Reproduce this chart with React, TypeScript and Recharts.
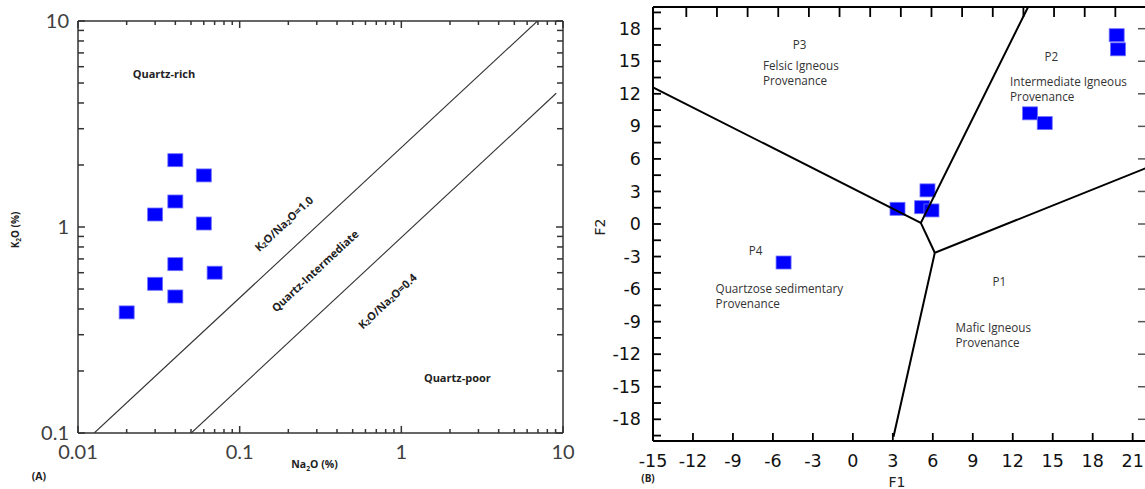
import React from 'react';
import { ScatterChart, Scatter, XAxis, YAxis } from 'recharts';

// ---------- Panel A : K2O vs Na2O (log-log) ----------
const NA2O = [0.04, 0.06, 0.04, 0.03, 0.06, 0.04, 0.07, 0.03, 0.04, 0.02];
const K2O = [2.11, 1.78, 1.33, 1.15, 1.04, 0.66, 0.6, 0.53, 0.46, 0.385];

// field boundaries (end points as drawn)
const RATIO_1_0 = [
  { x: 0.0126, y: 0.1 },
  { x: 6.95, y: 10 },
];
const RATIO_0_4 = [
  { x: 0.0502, y: 0.1 },
  { x: 9.08, y: 4.46 },
];

const A_X_TICKS = [
  0.01, 0.02, 0.03, 0.04, 0.05, 0.06, 0.07, 0.08, 0.09,
  0.1, 0.2, 0.3, 0.4, 0.5, 0.6, 0.7, 0.8, 0.9,
  1, 2, 3, 4, 5, 6, 7, 8, 9, 10,
];
const A_Y_TICKS = [
  0.1, 0.2, 0.3, 0.4, 0.5, 0.6, 0.7, 0.8, 0.9,
  1, 2, 3, 4, 5, 6, 7, 8, 9, 10,
];

const A_NOTES = [
  { x: 0.034, y: 5.6, text: 'Quartz-rich', angle: 0 },
  { x: 2.22, y: 0.186, text: 'Quartz-poor', angle: 0 },
  { x: 0.186, y: 1.045, text: 'K_2O/Na_2O=1.0', angle: -43 },
  { x: 0.29, y: 0.617, text: 'Quartz-Intermediate', angle: -43 },
  { x: 0.813, y: 0.44, text: 'K_2O/Na_2O=0.4', angle: -43 },
];

// ---------- Panel B : discriminant functions F1 / F2 ----------
const F1 = [19.8, 19.9, 13.3, 14.4, 5.6, 5.2, 5.9, 3.35, -5.2];
const F2 = [17.4, 16.1, 10.2, 9.3, 3.1, 1.55, 1.25, 1.4, -3.55];

const FIELD_LINES = [
  [
    { x: -15, y: 12.6 },
    { x: 5.1, y: 0.1 },
    { x: 13.15, y: 20 },
  ],
  [
    { x: 5.1, y: 0.1 },
    { x: 6.15, y: -2.65 },
  ],
  [
    { x: 22, y: 5.15 },
    { x: 6.15, y: -2.65 },
    { x: 3.05, y: -19.6 },
  ],
];

const B_X_TICKS = [-15, -12, -9, -6, -3, 0, 3, 6, 9, 12, 15, 18, 21];
const B_TOP_TICKS = [-12.5, -10.2, -7.9, -5.6, -3.3, -1.0, 1.3, 3.6, 5.9, 8.2, 10.5, 12.8, 15.1, 17.4, 19.7];
const B_Y_TICKS = [
  -19.5, -18, -16.5, -15, -13.5, -12, -10.5, -9, -7.5, -6, -4.5, -3, -1.5, 0,
  1.5, 3, 4.5, 6, 7.5, 9, 10.5, 12, 13.5, 15, 16.5, 18, 19.5,
];
const B_RIGHT_TICKS = [-18, -15, -12, -9, -6, -3, 0, 3, 6, 9, 12, 15, 18];

const B_FIELD_NAMES = [
  { x: -4.0, y: 16.5, text: 'P3' },
  { x: 14.9, y: 15.4, text: 'P2' },
  { x: -7.3, y: -2.5, text: 'P4' },
  { x: 11.0, y: -5.35, text: 'P1' },
];
const B_FIELD_TEXT = [
  { x: -6.75, y: 14.6, lines: ['Felsic Igneous', 'Provenance'] },
  { x: 11.8, y: 13.1, lines: ['Intermediate Igneous', 'Provenance'] },
  { x: -10.3, y: -6.0, lines: ['Quartzose sedimentary', 'Provenance'] },
  { x: 7.7, y: -9.6, lines: ['Mafic Igneous', 'Provenance'] },
];

const pointsA = NA2O.map((x, i) => ({ x, y: K2O[i] }));
const pointsB = F1.map((x, i) => ({ x, y: F2[i] }));

const A_AXIS = '#333';
const BLUE = '#0000ff';
const NUM_A = 'Lato, "Open Sans", sans-serif';
const NUM_B = '"DejaVu Sans", Verdana, sans-serif';
const NOTE_FONT = '"Open Sans", "Noto Sans", sans-serif';

// text with "_2" style subscripts
function chem(str: string, size: number) {
  const parts = str.split(/_(\d)/);
  return parts.map((p, i) =>
    i % 2 === 1 ? (
      <tspan key={i} fontSize={size * 0.65} dy={size * 0.25}>{p}</tspan>
    ) : (
      <tspan key={i} dy={i === 0 ? 0 : -size * 0.25}>{p}</tspan>
    )
  );
}

const isDecade = (v: number) => Math.abs(Math.log10(v) - Math.round(Math.log10(v))) < 1e-6;

const SquareMark = (props: any) => {
  const { cx, cy } = props;
  if (cx == null || cy == null) return <g />;
  return (
    <rect x={cx - 7.5} y={cy - 6.5} width={15} height={13} fill={BLUE} stroke="#7070ff" strokeWidth={0.8} />
  );
};

const Nothing = () => <g />;

// ----- panel A ticks (inward, log minors) -----
const ABottomTick = (props: any) => {
  const { x = 0, y = 0, payload } = props;
  const v = payload?.value;
  const major = isDecade(v);
  return (
    <g>
      <line x1={x} x2={x} y1={y} y2={y - (major ? 7 : 4)} stroke={A_AXIS} strokeWidth={1.5} />
      {major && (
        <text x={x} y={y + 19} dy="0.35em" textAnchor="middle" fontFamily={NUM_A} fontSize={20} fill="#404040">
          {v}
        </text>
      )}
    </g>
  );
};
const ATopTick = (props: any) => {
  const { x = 0, y = 0, payload } = props;
  const major = isDecade(payload?.value);
  return (
    <g>
      <line x1={x} x2={x} y1={y} y2={y + (major ? 7 : 4)} stroke={A_AXIS} strokeWidth={1.5} />
    </g>
  );
};
const ALeftTick = (props: any) => {
  const { x = 0, y = 0, payload } = props;
  const v = payload?.value;
  const major = isDecade(v);
  return (
    <g>
      <line x1={x} x2={x + (major ? 7 : 6)} y1={y} y2={y} stroke={A_AXIS} strokeWidth={1.5} />
      {major && (
        <text x={x - 9} y={y} dy="0.35em" textAnchor="end" fontFamily={NUM_A} fontSize={20} fill="#404040">
          {v}
        </text>
      )}
    </g>
  );
};
const ARightTick = (props: any) => {
  const { x = 0, y = 0, payload } = props;
  const major = isDecade(payload?.value);
  return (
    <g>
      <line x1={x} x2={x - (major ? 7 : 6)} y1={y} y2={y} stroke={A_AXIS} strokeWidth={1.5} />
    </g>
  );
};

// ----- panel B ticks -----
const BBottomTick = (props: any) => {
  const { x = 0, y = 0, payload } = props;
  return (
    <g>
      <line x1={x} x2={x} y1={y} y2={y - 8} stroke="#000" strokeWidth={1.8} />
      <text x={x} y={y + 20} dy="0.35em" textAnchor="middle" fontFamily={NUM_B} fontSize={17.5} fill="#111">
        {payload?.value}
      </text>
    </g>
  );
};
const BTopTick = (props: any) => {
  const { x = 0, y = 0 } = props;
  return (
    <g>
      <line x1={x} x2={x} y1={y} y2={y + 10} stroke="#000" strokeWidth={1.8} />
    </g>
  );
};
const BLeftTick = (props: any) => {
  const { x = 0, y = 0, payload } = props;
  const v = payload?.value;
  const labelled = Number.isInteger(v / 3);
  return (
    <g>
      <line x1={x} x2={x + 8} y1={y} y2={y} stroke="#000" strokeWidth={1.8} />
      {labelled && (
        <text x={x - 12} y={y} dy="0.35em" textAnchor="end" fontFamily={NUM_B} fontSize={17.5} fill="#111">
          {v}
        </text>
      )}
    </g>
  );
};
const BRightTick = (props: any) => {
  const { x = 0, y = 0 } = props;
  return (
    <g>
      <line x1={x} x2={x - 8} y1={y} y2={y} stroke="#555" strokeWidth={1.5} />
    </g>
  );
};

// ----- annotation shapes -----
const ANoteShape = (props: any) => {
  const { cx, cy, payload } = props;
  if (cx == null) return <g />;
  return (
    <text
      x={cx}
      y={cy}
      textAnchor="middle"
      dominantBaseline="central"
      transform={`rotate(${payload.angle}, ${cx}, ${cy})`}
      fontFamily={NOTE_FONT}
      fontWeight={700}
      fontSize={11}
      fill="#222"
    >
      {chem(payload.text, 11)}
    </text>
  );
};
const BNameShape = (props: any) => {
  const { cx, cy, payload } = props;
  if (cx == null) return <g />;
  return (
    <text x={cx} y={cy} dy="0.35em" textAnchor="middle" fontFamily={NOTE_FONT} fontSize={11.7} fill="#333">
      {payload.text}
    </text>
  );
};
const BTextShape = (props: any) => {
  const { cx, cy, payload } = props;
  if (cx == null) return <g />;
  return (
    <text x={cx} y={cy} dy="0.35em" textAnchor="start" fontFamily={NOTE_FONT} fontSize={11.7} fill="#333">
      {payload.lines.map((l: string, i: number) => (
        <tspan key={i} x={cx} dy={i === 0 ? '0.35em' : 15}>
          {l}
        </tspan>
      ))}
    </text>
  );
};

function PanelA() {
  return (
    <ScatterChart width={580} height={489} margin={{ top: 20, right: 16, bottom: 0, left: 0 }}>
      <XAxis
        xAxisId="b"
        dataKey="x"
        type="number"
        scale="log"
        domain={[0.01, 10]}
        allowDataOverflow
        ticks={A_X_TICKS}
        interval={0}
        height={56}
        tickSize={0}
        tickMargin={0}
        tickLine={false}
        axisLine={{ stroke: A_AXIS, strokeWidth: 1.5 }}
        tick={ABottomTick}
        label={(p: any) => {
          const vb = p.viewBox;
          return (
            <g fontFamily={NOTE_FONT} fontWeight={700} fontSize={10.5} fill="#222">
              <text x={vb.x + vb.width / 2 - 6} y={vb.y + 35} dy="0.35em" textAnchor="middle">
                {chem('Na_2O (%)', 10.5)}
              </text>
              <text x={39} y={vb.y + 43} dy="0.35em" textAnchor="middle">(A)</text>
            </g>
          );
        }}
      />
      <XAxis
        xAxisId="t"
        orientation="top"
        dataKey="x"
        type="number"
        scale="log"
        domain={[0.01, 10]}
        allowDataOverflow
        ticks={A_X_TICKS}
        interval={0}
        height={1}
        tickSize={0}
        tickMargin={0}
        tickLine={false}
        axisLine={{ stroke: A_AXIS, strokeWidth: 1.5 }}
        tick={ATopTick}
      />
      <YAxis
        yAxisId="l"
        dataKey="y"
        type="number"
        scale="log"
        domain={[0.1, 10]}
        allowDataOverflow
        ticks={A_Y_TICKS}
        interval={0}
        width={78}
        tickSize={0}
        tickMargin={0}
        tickLine={false}
        axisLine={{ stroke: A_AXIS, strokeWidth: 1.5 }}
        tick={ALeftTick}
        label={(p: any) => {
          const vb = p.viewBox;
          const cx = vb.x + 15;
          const cy = vb.y + vb.height / 2 + 3;
          return (
            <text
              x={cx}
              y={cy}
              textAnchor="middle"
              dominantBaseline="central"
              transform={`rotate(-90, ${cx}, ${cy})`}
              fontFamily={NOTE_FONT}
              fontWeight={700}
              fontSize={10}
              fill="#222"
            >
              {chem('K_2O (%)', 10)}
            </text>
          );
        }}
      />
      <YAxis
        yAxisId="r"
        orientation="right"
        dataKey="y"
        type="number"
        scale="log"
        domain={[0.1, 10]}
        allowDataOverflow
        ticks={A_Y_TICKS}
        interval={0}
        width={1}
        tickSize={0}
        tickMargin={0}
        tickLine={false}
        axisLine={{ stroke: A_AXIS, strokeWidth: 1.5 }}
        tick={ARightTick}
      />
      <Scatter xAxisId="b" yAxisId="l" data={RATIO_1_0} line={{ stroke: '#333', strokeWidth: 1.1 }} shape={Nothing} isAnimationActive={false} />
      <Scatter xAxisId="b" yAxisId="l" data={RATIO_0_4} line={{ stroke: '#333', strokeWidth: 1.1 }} shape={Nothing} isAnimationActive={false} />
      <Scatter xAxisId="b" yAxisId="l" data={pointsA} shape={SquareMark} isAnimationActive={false} />
      <Scatter xAxisId="b" yAxisId="l" data={A_NOTES} shape={ANoteShape} isAnimationActive={false} />
    </ScatterChart>
  );
}

function PanelB() {
  return (
    <ScatterChart width={570} height={489} margin={{ top: 0, right: 0, bottom: 0, left: 0 }}>
      <XAxis
        xAxisId="b"
        dataKey="x"
        type="number"
        domain={[-15, 22]}
        allowDataOverflow
        ticks={B_X_TICKS}
        interval={0}
        height={48}
        tickSize={0}
        tickMargin={0}
        tickLine={false}
        axisLine={{ stroke: '#000', strokeWidth: 2 }}
        tick={BBottomTick}
        label={(p: any) => {
          const vb = p.viewBox;
          return (
            <g>
              <text x={vb.x + 244} y={vb.y + 41} dy="0.35em" textAnchor="middle" fontFamily={NUM_B} fontSize={14} fill="#222">
                F1
              </text>
              <text x={vb.x - 5} y={vb.y + 37} dy="0.35em" textAnchor="middle" fontFamily={NOTE_FONT} fontWeight={700} fontSize={10} fill="#222">
                (B)
              </text>
            </g>
          );
        }}
      />
      <XAxis
        xAxisId="t"
        orientation="top"
        dataKey="x"
        type="number"
        domain={[-15, 22]}
        allowDataOverflow
        ticks={B_TOP_TICKS}
        interval={0}
        height={7}
        tickSize={0}
        tickMargin={0}
        tickLine={false}
        axisLine={{ stroke: '#000', strokeWidth: 2 }}
        tick={BTopTick}
      />
      <YAxis
        yAxisId="l"
        dataKey="y"
        type="number"
        domain={[-20, 20]}
        allowDataOverflow
        ticks={B_Y_TICKS}
        interval={0}
        width={73}
        tickSize={0}
        tickMargin={0}
        tickLine={false}
        axisLine={{ stroke: '#000', strokeWidth: 2 }}
        tick={BLeftTick}
        label={(p: any) => {
          const vb = p.viewBox;
          const cx = vb.x + 20;
          const cy = vb.y + 220;
          return (
            <text
              x={cx}
              y={cy}
              textAnchor="middle"
              dominantBaseline="central"
              transform={`rotate(-90, ${cx}, ${cy})`}
              fontFamily={NUM_B}
              fontSize={14}
              fill="#222"
            >
              F2
            </text>
          );
        }}
      />
      <YAxis
        yAxisId="r"
        orientation="right"
        dataKey="y"
        type="number"
        domain={[-20, 20]}
        allowDataOverflow
        ticks={B_RIGHT_TICKS}
        interval={0}
        width={4}
        tickSize={0}
        tickMargin={0}
        tickLine={false}
        axisLine={false}
        tick={BRightTick}
      />
      <Scatter xAxisId="b" yAxisId="l" data={pointsB} shape={SquareMark} isAnimationActive={false} />
      {FIELD_LINES.map((seg, i) => (
        <Scatter
          key={i}
          xAxisId="b"
          yAxisId="l"
          data={seg}
          line={{ stroke: '#000', strokeWidth: 2 }}
          shape={Nothing}
          isAnimationActive={false}
        />
      ))}
      <Scatter xAxisId="b" yAxisId="l" data={B_FIELD_NAMES} shape={BNameShape} isAnimationActive={false} />
      <Scatter xAxisId="b" yAxisId="l" data={B_FIELD_TEXT} shape={BTextShape} isAnimationActive={false} />
    </ScatterChart>
  );
}

export default function App() {
  return (
    <div
      style={{
        position: 'absolute',
        left: 0,
        top: 0,
        width: 1145,
        height: 489,
        overflow: 'hidden',
        background: '#fff',
      }}
    >
      <div style={{ position: 'absolute', left: 0, top: 0 }}>
        <PanelA />
      </div>
      <div style={{ position: 'absolute', left: 580, top: 0 }}>
        <PanelB />
      </div>
    </div>
  );
}
